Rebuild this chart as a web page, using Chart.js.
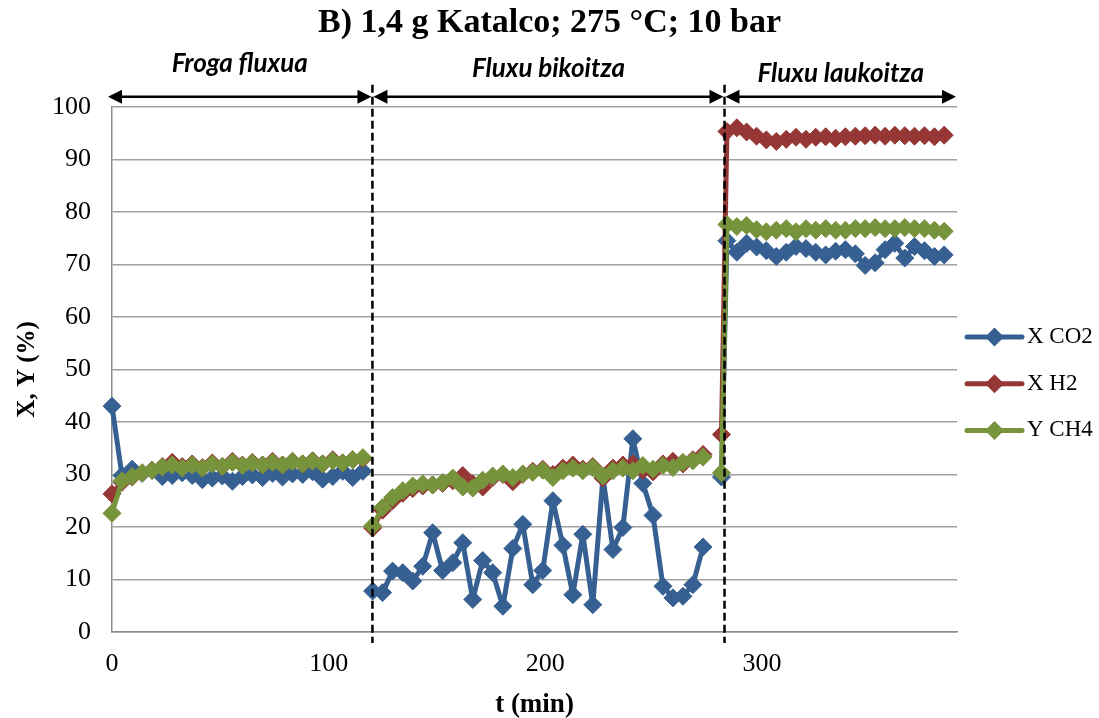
<!DOCTYPE html>
<html><head><meta charset="utf-8">
<script src="https://cdn.jsdelivr.net/npm/chart.js@4.4.0/dist/chart.umd.min.js"></script>
<style>html,body{margin:0;padding:0;background:#fff;}#wrap{width:1099px;height:718px;}</style>
</head><body><div id="wrap"><canvas id="c" width="1099" height="718"></canvas></div>
<script>
// time (min); null values in the series mark the breaks between the three phases
const timeMin = [
  0, 4.6, 9.3, 13.9, 18.5, 23.2, 27.8, 32.4, 37.0, 41.7, 46.3, 50.9, 55.6, 60.2, 64.8, 69.5, 74.1, 78.7, 83.3, 88.0, 92.6, 97.2, 101.9, 106.5, 111.1, 115.8,
  118.0,
  120.3, 124.9, 129.5, 134.2, 138.8, 143.4, 148.0, 152.6, 157.3, 161.9, 166.5, 171.1, 175.7, 180.4, 185.0, 189.6, 194.2, 198.8, 203.5, 208.1, 212.7, 217.3, 221.9, 226.6, 231.2, 235.8, 240.4, 245.0, 249.7, 254.3, 258.9, 263.5, 268.1, 272.8,
  277.0,
  281.3, 283.8, 288.4, 292.9, 297.5, 302.0, 306.6, 311.2, 315.7, 320.3, 324.8, 329.4, 334.0, 338.5, 343.1, 347.6, 352.2, 356.8, 361.3, 365.9, 370.4, 375.0, 379.6, 384.1
];
const xCO2 = [
  43.0, 29.8, 31.0, 30.2, 30.8, 29.6, 29.8, 30.3, 29.8, 29.0, 29.3, 29.7, 28.7, 29.6, 29.9, 29.4, 30.2, 29.5, 30.1, 30.0, 30.5, 29.1, 29.6, 30.6, 29.4, 30.6,
  null,
  7.8, 7.5, 11.6, 11.3, 9.7, 12.5, 18.9, 11.7, 13.2, 17.0, 6.2, 13.6, 11.3, 4.9, 15.9, 20.5, 9.0, 11.7, 25.0, 16.5, 7.1, 18.6, 5.2, 29.5, 15.7, 19.9, 36.8, 28.3, 22.2, 8.7, 6.5, 6.8, 9.0, 16.2,
  null,
  29.5, 74.5, 72.3, 74.0, 73.3, 72.6, 71.5, 72.3, 73.4, 73.0, 72.3, 71.8, 72.5, 72.8, 72.0, 69.8, 70.3, 72.8, 74.0, 71.2, 73.4, 72.6, 71.5, 71.8
];
const xH2 = [
  26.3, 28.5, 29.5, 30.3, 30.8, 31.5, 32.3, 31.5, 32.0, 31.3, 32.2, 31.5, 32.5, 31.8, 32.3, 31.8, 32.5, 31.8, 32.5, 32.0, 32.6, 32.0, 32.8, 32.2, 32.8, 33.0,
  null,
  19.8, 23.2, 25.0, 26.4, 27.3, 27.8, 28.0, 28.3, 28.8, 29.8, 28.2, 27.6, 29.4, 30.0, 28.6, 30.0, 30.6, 31.0, 30.0, 31.2, 31.8, 31.0, 31.5, 29.3, 31.2, 31.8, 32.0, 30.8, 30.5, 32.0, 32.5, 32.0, 32.8, 33.8,
  null,
  37.6, 95.3, 96.0, 95.2, 94.4, 93.7, 93.4, 93.8, 94.2, 93.8, 94.2, 94.3, 94.0, 94.3, 94.4, 94.5, 94.6, 94.4, 94.6, 94.5, 94.4, 94.5, 94.3, 94.6
];
const yCH4 = [
  22.6, 28.8, 29.6, 30.3, 30.8, 31.4, 31.8, 31.2, 31.8, 31.2, 32.0, 31.5, 32.3, 31.7, 32.2, 31.8, 32.3, 31.8, 32.4, 32.0, 32.5, 32.0, 32.6, 32.2, 32.8, 33.2,
  null,
  20.2, 23.7, 25.6, 26.9, 27.8, 28.2, 28.0, 28.5, 29.3, 27.6, 27.4, 28.9, 29.7, 30.1, 29.4, 30.1, 30.4, 30.8, 29.4, 30.7, 31.2, 30.7, 31.3, 29.7, 30.7, 31.2, 30.7, 31.7, 31.0, 31.7, 31.3, 32.3, 32.6, 33.3,
  null,
  30.3, 77.6, 77.2, 77.4, 76.6, 76.2, 76.5, 76.8, 76.2, 76.8, 76.5, 76.8, 76.5, 76.5, 76.8, 76.8, 77.0, 76.8, 76.8, 77.0, 76.8, 76.8, 76.5, 76.3
];
const xTicks = [0, 100, 200, 300];
const phaseBounds = [0, 120.2, 282.7, 390];
const phaseLabels = ['Froga fluxua', 'Fluxu bikoitza', 'Fluxu laukoitza'];
const seriesLabels = ['X CO2', 'X H2', 'Y CH4'];
const seriesColors = ['#376092', '#953735', '#77933C'];
const chartTitle = 'B) 1,4 g Katalco; 275 °C; 10 bar';
const xTitle = 't (min)';
const yTitle = 'X, Y (%)';

const SERIF = 'Liberation Serif';
const seriesValues = [xCO2, xH2, yCH4];

const datasets = seriesValues.map((vals, k) => ({
  label: seriesLabels[k],
  data: timeMin.map((t, i) => ({x: t, y: vals[i]})),
  borderColor: seriesColors[k],
  backgroundColor: seriesColors[k],
  pointBackgroundColor: seriesColors[k],
  pointBorderColor: seriesColors[k],
  borderWidth: 5,
  borderJoinStyle: 'round',
  pointStyle: 'rectRot',
  pointRadius: 9,
  pointBorderWidth: 1,
  pointHoverRadius: 9,
  tension: 0,
  spanGaps: false,
  clip: false,
  order: 3 - k
}));

const phasePlugin = {
  id: 'phases',
  afterDatasetsDraw(chart) {
    const {ctx, chartArea, scales} = chart;
    const xs = scales.x;
    ctx.save();
    ctx.strokeStyle = '#000';
    ctx.fillStyle = '#000';
    ctx.lineWidth = 2.5;
    ctx.setLineDash([8, 4]);
    for (let i = 1; i < phaseBounds.length - 1; i++) {
      const px = xs.getPixelForValue(phaseBounds[i]);
      ctx.beginPath();
      ctx.moveTo(px, chartArea.top - 22);
      ctx.lineTo(px, chartArea.bottom + 11);
      ctx.stroke();
    }
    ctx.setLineDash([]);
    const ay = chartArea.top - 10;
    const head = 15, hw = 7;
    for (let i = 0; i < phaseLabels.length; i++) {
      let x0 = xs.getPixelForValue(phaseBounds[i]);
      let x1 = xs.getPixelForValue(phaseBounds[i + 1]);
      if (i === 0) x0 -= 5;
      ctx.lineWidth = 2.5;
      ctx.beginPath();
      ctx.moveTo(x0 + head - 2, ay);
      ctx.lineTo(x1 - head + 2, ay);
      ctx.stroke();
      ctx.beginPath();
      ctx.moveTo(x0 + 1, ay); ctx.lineTo(x0 + head, ay - hw); ctx.lineTo(x0 + head, ay + hw); ctx.closePath(); ctx.fill();
      ctx.beginPath();
      ctx.moveTo(x1 - 1, ay); ctx.lineTo(x1 - head, ay - hw); ctx.lineTo(x1 - head, ay + hw); ctx.closePath(); ctx.fill();
      ctx.font = 'italic bold 26px Lato';
      ctx.textAlign = 'center';
      ctx.textBaseline = 'middle';
      ctx.fillText(phaseLabels[i], (x0 + x1) / 2, chartArea.top - 43 + i * 5);
    }
    ctx.restore();
  },
  afterDraw(chart) {
    const {ctx, chartArea} = chart;
    ctx.save();
    const lx0 = chartArea.right + 10, lx1 = chartArea.right + 65, tx = chartArea.right + 70;
    const y0 = 337, dy = 46.7;
    chart.data.datasets.forEach((ds, i) => {
      const y = y0 + i * dy;
      ctx.strokeStyle = ds.borderColor;
      ctx.fillStyle = ds.borderColor;
      ctx.lineWidth = 5;
      ctx.lineCap = 'round';
      ctx.beginPath(); ctx.moveTo(lx0, y); ctx.lineTo(lx1, y); ctx.stroke();
      const cx = (lx0 + lx1) / 2, r = 9.5;
      ctx.beginPath(); ctx.moveTo(cx - r, y); ctx.lineTo(cx, y - r); ctx.lineTo(cx + r, y); ctx.lineTo(cx, y + r); ctx.closePath(); ctx.fill();
      ctx.fillStyle = '#000';
      ctx.font = '23px "' + SERIF + '"';
      ctx.textAlign = 'left';
      ctx.textBaseline = 'middle';
      ctx.fillText(ds.label, tx, y);
    });
    ctx.restore();
  }
};

Chart.defaults.font.family = SERIF;
Chart.defaults.color = '#000';

new Chart(document.getElementById('c'), {
  type: 'line',
  data: {datasets},
  options: {
    responsive: false,
    animation: false,
    events: [],
    layout: {padding: 0},
    plugins: {
      legend: {display: false},
      tooltip: {enabled: false},
      title: {
        display: true,
        text: chartTitle,
        color: '#000',
        font: {family: SERIF, size: 34, weight: 'bold', lineHeight: 1.2},
        padding: {top: 3, bottom: 63}
      }
    },
    scales: {
      x: {
        type: 'linear',
        min: 0,
        max: 390,
        afterBuildTicks(scale) { scale.ticks = xTicks.map(v => ({value: v})); },
        afterFit(scale) { scale.height = 86; },
        grid: {display: false, drawTicks: false},
        border: {display: true, color: '#8c8c8c', width: 1.5},
        ticks: {font: {family: SERIF, size: 26}, padding: 17, color: '#000', maxRotation: 0},
        title: {display: true, text: xTitle, font: {family: SERIF, size: 27, weight: 'bold', lineHeight: 1.2}, padding: {top: 0, bottom: -3}, color: '#000'}
      },
      y: {
        min: 0,
        max: 100,
        afterFit(scale) { scale.width = 112; },
        grid: {color: '#a0a0a0', lineWidth: 1.5, drawTicks: false},
        border: {display: true, color: '#8c8c8c', width: 1.5},
        ticks: {stepSize: 10, font: {family: SERIF, size: 26}, padding: 21, color: '#000'},
        title: {display: true, text: yTitle, font: {family: SERIF, size: 25, weight: 'bold', lineHeight: 1.2}, padding: {top: 13, bottom: 0}, color: '#000'}
      },
      legendSpace: {
        type: 'linear',
        position: 'right',
        display: true,
        min: 0,
        max: 100,
        afterFit(scale) { scale.width = 142; },
        grid: {display: false, drawOnChartArea: false, drawTicks: false},
        border: {display: false},
        ticks: {display: false}
      }
    }
  },
  plugins: [phasePlugin]
});
</script>
</body></html>
